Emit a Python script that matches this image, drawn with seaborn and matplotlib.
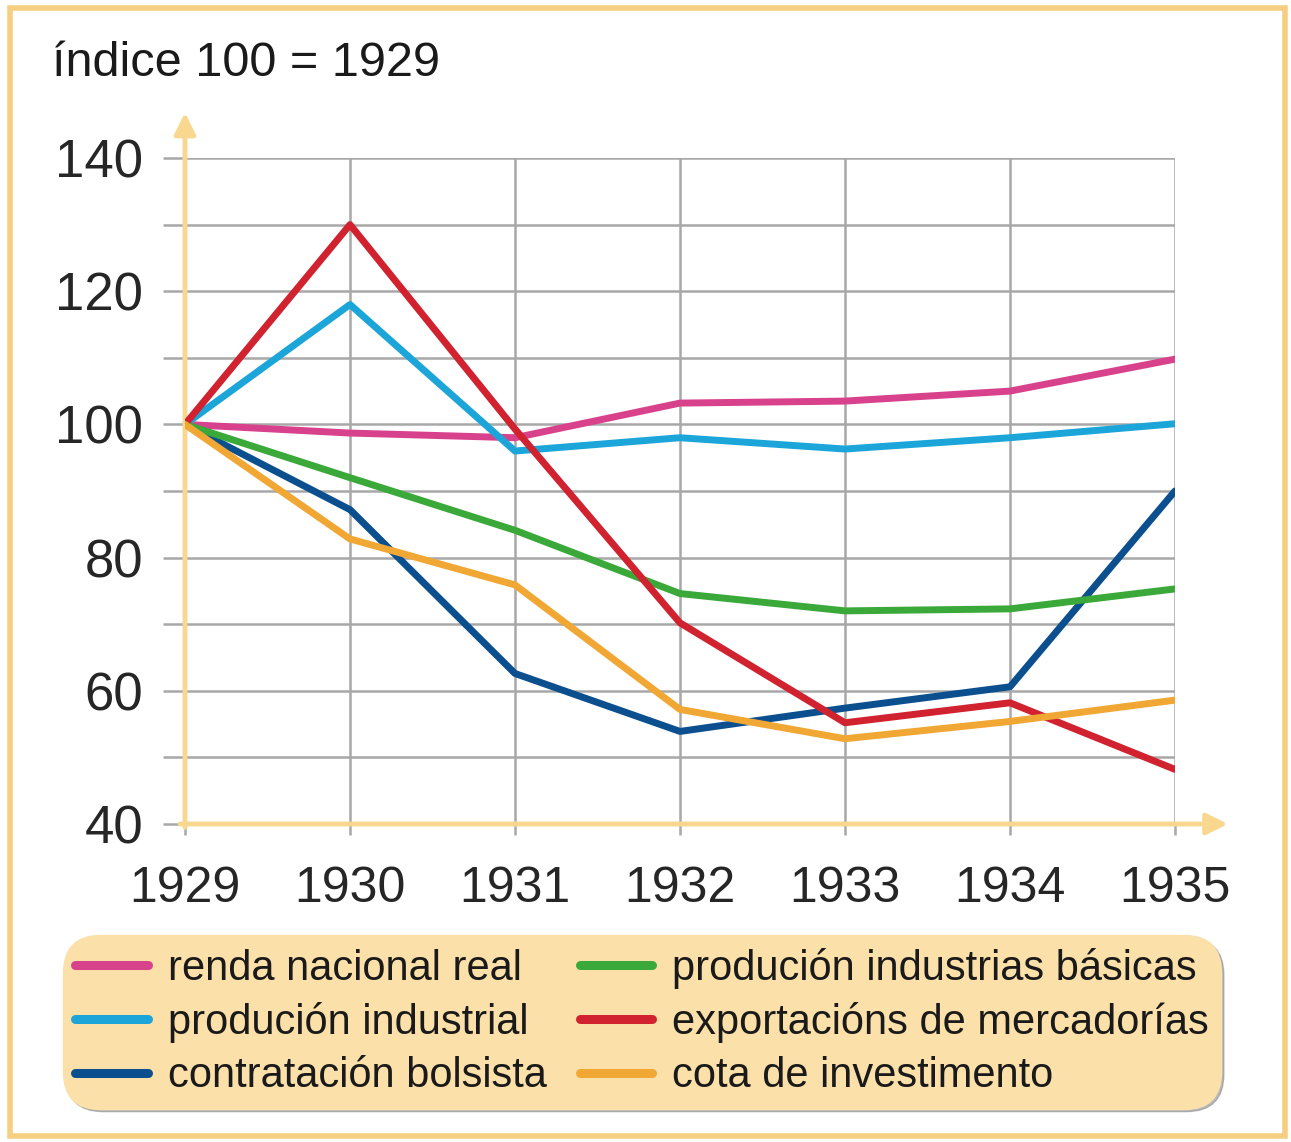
import pandas as pd
import matplotlib.pyplot as plt
import seaborn as sns
from matplotlib.patches import Rectangle

# Datos (índice 100 = 1929)
anos = [1929, 1930, 1931, 1932, 1933, 1934, 1935]
renda = [100, 98.7, 98, 103.2, 103.5, 105, 109.8]
produccion_ind = [100, 118, 96, 98, 96.3, 98, 100.1]
contratacion = [100, 87.2, 62.6, 53.9, 57.4, 60.6, 90]
industrias_basicas = [100, 92, 84.1, 74.6, 72, 72.3, 75.3]
exportacions = [100, 130, 99.3, 70.2, 55.2, 58.2, 48.2]
investimento = [100, 82.8, 75.9, 57.2, 52.8, 55.4, 58.6]

series = {
    'renda nacional real': renda,
    'produción industrial': produccion_ind,
    'contratación bolsista': contratacion,
    'produción industrias básicas': industrias_basicas,
    'exportacións de mercadorías': exportacions,
    'cota de investimento': investimento,
}
cores = {
    'renda nacional real': '#D8428C',
    'produción industrial': '#1CA5D8',
    'contratación bolsista': '#0B4F8E',
    'produción industrias básicas': '#3BA83A',
    'exportacións de mercadorías': '#D1222F',
    'cota de investimento': '#F0A733',
}

df = pd.DataFrame([(a, nome, v) for nome, vals in series.items()
                   for a, v in zip(anos, vals)],
                  columns=['ano', 'serie', 'valor'])

sns.set_style('white')
plt.rcParams['font.family'] = ['Liberation Sans', 'DejaVu Sans']

fig = plt.figure(figsize=(12.91, 11.42), dpi=100)
ax = fig.add_axes([185 / 1291, 1 - 824 / 1142, 990 / 1291, 666 / 1142])

sns.lineplot(data=df, x='ano', y='valor', hue='serie', palette=cores,
             hue_order=list(series.keys()), linewidth=5, ax=ax, zorder=3)

ax.set_xlim(1929, 1935)
ax.set_ylim(40, 140)
ax.set_xticks(anos)
ax.set_yticks(range(40, 141, 20))
ax.set_yticks(range(50, 140, 20), minor=True)
ax.grid(True, which='both', color='#A8A8A8', linewidth=1.8, zorder=1)
for s in ax.spines.values():
    s.set_visible(False)
ax.tick_params(axis='y', which='both', length=16, width=1.8, color='#A8A8A8',
               labelsize=38, pad=14, left=True)
ax.tick_params(axis='x', length=8, width=1.8, color='#A8A8A8',
               labelsize=36, pad=22, bottom=True)
ax.set_xlabel('')
ax.set_ylabel('')

# eixos amarelos con frechas
amarelo = '#F8D88E'
ax.annotate('', xy=(1929, 146.8), xytext=(1929, 39.5), annotation_clip=False,
            arrowprops=dict(arrowstyle='-|>', color=amarelo, lw=3.5,
                            mutation_scale=32, shrinkA=0, shrinkB=0), zorder=2)
ax.annotate('', xy=(1935.32, 40), xytext=(1928.97, 40), annotation_clip=False,
            arrowprops=dict(arrowstyle='-|>', color=amarelo, lw=3.5,
                            mutation_scale=32, shrinkA=0, shrinkB=0), zorder=2)

fig.text(52 / 1291, 1 - 64 / 1142, 'índice 100 = 1929', fontsize=35,
         va='center', ha='left', color='#1a1a1a')

# lenda
handles, labels = ax.get_legend_handles_labels()
ax.get_legend().remove()
leg = fig.legend(handles, labels, ncols=2, loc='center',
                 bbox_to_anchor=(642 / 1291, 1 - 1022 / 1142),
                 prop={'size': 30},
                 handlelength=1.73, handletextpad=0.48, columnspacing=0.8,
                 labelspacing=0.32, borderpad=0.15, frameon=True, fancybox=True,
                 shadow={'color': '0.55', 'alpha': 0.6})
leg.get_frame().set_facecolor('#FBE1A9')
leg.get_frame().set_edgecolor('#FBE1A9')
leg.get_frame().set_alpha(1)
leg.get_frame().set_boxstyle('round,pad=0.15,rounding_size=0.9')
for ln in leg.get_lines():
    ln.set_linewidth(6.5)
for t in leg.get_texts():
    t.set_color('#1a1a1a')

# marco exterior
fig.patches.append(Rectangle((10 / 1291, 6 / 1142), 1275 / 1291, 1128 / 1142,
                             transform=fig.transFigure, fill=False,
                             edgecolor='#F6CE82', linewidth=4))

fig.savefig('out.png', dpi=100)
